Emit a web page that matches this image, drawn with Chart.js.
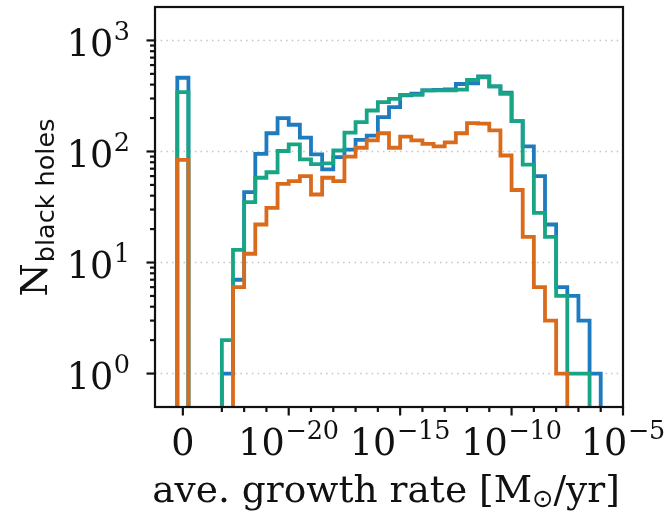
<!DOCTYPE html>
<html>
<head>
<meta charset="utf-8">
<script src="https://cdn.jsdelivr.net/npm/chart.js@4.4.1/dist/chart.umd.min.js"></script>
<style>
  html, body { margin: 0; padding: 0; background: #ffffff; }
  canvas { display: block; }
</style>
</head>
<body>
<canvas id="c" width="666" height="513"></canvas>
<script>
// Histogram bin edges in log10(growth rate); the first bin [-25,-24.5] holds the zero-rate black holes ("0")
const binEdges = [-25, -24.5, -24, -23.5, -23, -22.5, -22, -21.5, -21, -20.5, -20, -19.5, -19, -18.5,
                  -18, -17.5, -17, -16.5, -16, -15.5, -15, -14.5, -14, -13.5, -13, -12.5, -12, -11.5,
                  -11, -10.5, -10, -9.5, -9, -8.5, -8, -7.5, -7, -6.5, -6];

// Counts per bin (one value per bin)
const countsBlue   = [461, 0, 0, 0, 1, 7, 43, 95, 146, 200, 174, 133, 94, 69,
                      89, 104, 127, 139, 204, 251, 320, 331, 355, 358, 362, 405, 410, 475,
                      385, 338, 188, 111, 60, 22, 6, 5, 3, 1];
const countsGreen  = [342, 0, 0, 0, 2, 13, 35, 58, 65, 101, 116, 85, 77, 78,
                      102, 148, 184, 234, 278, 298, 324, 324, 355, 355, 355, 360, 440, 465,
                      385, 331, 188, 76, 28, 17, 5, 1, 1, 0];
const countsOrange = [84, 0, 0, 0, 0, 6, 12, 22, 31, 51, 54, 60, 41, 58,
                      54, 90, 108, 126, 146, 108, 136, 126, 117, 111, 121, 146, 180, 178,
                      155, 92, 45, 17, 6, 3, 1, 0, 0, 0];

// Tick positions / labels
const xTickValues = [-24.75, -20, -15, -10, -5];
const xTickBase   = ['0', '10', '10', '10', '10'];
const xTickExp    = ['', '\u221220', '\u221215', '\u221210', '\u22125'];
const yTickValues = [1, 10, 100, 1000];
const yTickBase   = ['10', '10', '10', '10'];
const yTickExp    = ['0', '1', '2', '3'];

const xTitleMain = 'ave. growth rate [M';
const xTitleSub  = '\u2299';
const xTitleEnd  = '/yr]';
const yTitleMain = 'N';
const yTitleSub  = 'black holes';

const BLUE = '#1f7bbf', GREEN = '#18a585', ORANGE = '#d96b1c';
const INK = '#111111';
const SERIF = '"DejaVu Serif", "Liberation Serif", serif';
const SANS = '"DejaVu Sans", "Liberation Sans", sans-serif';
const FS = 36.5, FS_SUP = 25.5, FS_TITLE = 37.5;

function stepPoints(counts) {
  const floor = 1e-3; // empty bins fall below the log axis floor (clipped), like matplotlib
  const pts = [{ x: binEdges[0], y: floor }];
  counts.forEach((c, i) => pts.push({ x: binEdges[i], y: c > 0 ? c : floor }));
  pts.push({ x: binEdges[binEdges.length - 1], y: floor });
  return pts;
}

const axesPlugin = {
  id: 'mplAxes',
  beforeDatasetsDraw(chart) {
    const { ctx, chartArea: a, scales: { y } } = chart;
    ctx.save();
    ctx.strokeStyle = '#c4c4c4';
    ctx.lineWidth = 1.4;
    ctx.setLineDash([1.5, 4.2]);
    yTickValues.forEach(v => {
      const py = y.getPixelForValue(v);
      ctx.beginPath(); ctx.moveTo(a.left, py); ctx.lineTo(a.right, py); ctx.stroke();
    });
    ctx.restore();
  },
  afterDatasetsDraw(chart) {
    const { ctx, chartArea: a, scales: { x, y } } = chart;
    ctx.save();
    ctx.strokeStyle = INK;
    ctx.fillStyle = INK;
    ctx.lineWidth = 2.2;
    ctx.setLineDash([]);
    // spines
    ctx.strokeRect(a.left, a.top, a.right - a.left, a.bottom - a.top);

    // y ticks
    const tick = (x0, y0, x1, y1) => { ctx.beginPath(); ctx.moveTo(x0, y0); ctx.lineTo(x1, y1); ctx.stroke(); };
    for (let d = 0; d <= 3; d++) {
      for (let k = 2; k <= 9; k++) {
        const v = k * Math.pow(10, d);
        if (v >= y.max) continue;
        const py = y.getPixelForValue(v);
        tick(a.left, py, a.left - 5, py);
      }
    }
    yTickValues.forEach(v => {
      const py = y.getPixelForValue(v);
      tick(a.left, py, a.left - 8.5, py);
    });
    // x ticks
    for (let v = -23; v <= -6; v++) {
      if (xTickValues.includes(v)) continue;
      const px = x.getPixelForValue(v);
      tick(px, a.bottom, px, a.bottom + 5);
    }
    xTickValues.forEach(v => {
      const px = x.getPixelForValue(v);
      tick(px, a.bottom, px, a.bottom + 8.5);
    });

    // tick labels
    ctx.textBaseline = 'alphabetic';
    ctx.textAlign = 'left';
    const mainFont = FS + 'px ' + SERIF, supFont = FS_SUP + 'px ' + SERIF;
    const labelWidth = (b, e) => {
      ctx.font = mainFont; const wb = ctx.measureText(b).width;
      ctx.font = supFont; const we = e ? ctx.measureText(e).width : 0;
      return [wb, we];
    };
    const drawLabel = (b, e, left, base) => {
      const [wb] = labelWidth(b, e);
      ctx.font = mainFont; ctx.fillText(b, left, base);
      if (e) { ctx.font = supFont; ctx.fillText(e, left + wb + 0.5, base - 16); }
    };
    yTickValues.forEach((v, i) => {
      const py = y.getPixelForValue(v);
      const [wb, we] = labelWidth(yTickBase[i], yTickExp[i]);
      drawLabel(yTickBase[i], yTickExp[i], 130 - (wb + we + 0.5), py + 15.5);
    });
    xTickValues.forEach((v, i) => {
      const px = x.getPixelForValue(v);
      const [wb, we] = labelWidth(xTickBase[i], xTickExp[i]);
      const w = wb + (xTickExp[i] ? we + 0.5 : 0);
      drawLabel(xTickBase[i], xTickExp[i], px - w / 2, a.bottom + 48);
    });

    // x title
    const titleFont = FS_TITLE + 'px ' + SERIF;
    ctx.font = titleFont; const w1 = ctx.measureText(xTitleMain).width; const w3 = ctx.measureText(xTitleEnd).width;
    ctx.font = FS_SUP + 'px ' + SANS; const w2 = ctx.measureText(xTitleSub).width;
    const totalX = w1 + w2 + w3;
    let tx = 386 - totalX / 2; const tb = 501.5;
    ctx.font = titleFont; ctx.fillText(xTitleMain, tx, tb); tx += w1;
    ctx.font = FS_SUP + 'px ' + SANS; ctx.fillText(xTitleSub, tx, tb + 5.5); tx += w2;
    ctx.font = titleFont; ctx.fillText(xTitleEnd, tx, tb);

    // y title (rotated)
    ctx.font = '38px ' + SERIF; const wn = ctx.measureText(yTitleMain).width;
    ctx.font = FS_SUP + 'px ' + SANS; const ws = ctx.measureText(yTitleSub).width;
    const cy = (a.top + a.bottom) / 2 + 1;
    ctx.translate(47, cy);
    ctx.rotate(-Math.PI / 2);
    const start = -(wn + ws) / 2;
    ctx.font = '38px ' + SERIF; ctx.fillText(yTitleMain, start, 0);
    ctx.font = FS_SUP + 'px ' + SANS; ctx.fillText(yTitleSub, start + wn + 1, 6.5);
    ctx.restore();
  }
};

// Chart.js 'before' stepping: horizontal at the previous value, then vertical (histogram step)
const lineDs = (data, color, order) => ({
  data, borderColor: color, backgroundColor: color, order,
  stepped: 'before', borderWidth: 3.8, fill: false, tension: 0,
  borderJoinStyle: 'miter', borderCapStyle: 'butt',
  pointRadius: 0, pointHoverRadius: 0, pointHitRadius: 0,
  clip: 0, spanGaps: false
});

new Chart(document.getElementById('c'), {
  type: 'line',
  data: {
    datasets: [
      lineDs(stepPoints(countsBlue), BLUE, 3),
      lineDs(stepPoints(countsGreen), GREEN, 2),
      lineDs(stepPoints(countsOrange), ORANGE, 1)
    ]
  },
  options: {
    responsive: false,
    animation: false,
    devicePixelRatio: 1,
    events: [],
    layout: { padding: { left: 155, top: 7, right: 43, bottom: 106 } },
    scales: {
      x: { type: 'linear', min: -26, max: -5, display: false },
      y: { type: 'logarithmic', min: 0.5, max: 2000, display: false }
    },
    plugins: { legend: { display: false }, tooltip: { enabled: false } }
  },
  plugins: [axesPlugin]
});
</script>
</body>
</html>
